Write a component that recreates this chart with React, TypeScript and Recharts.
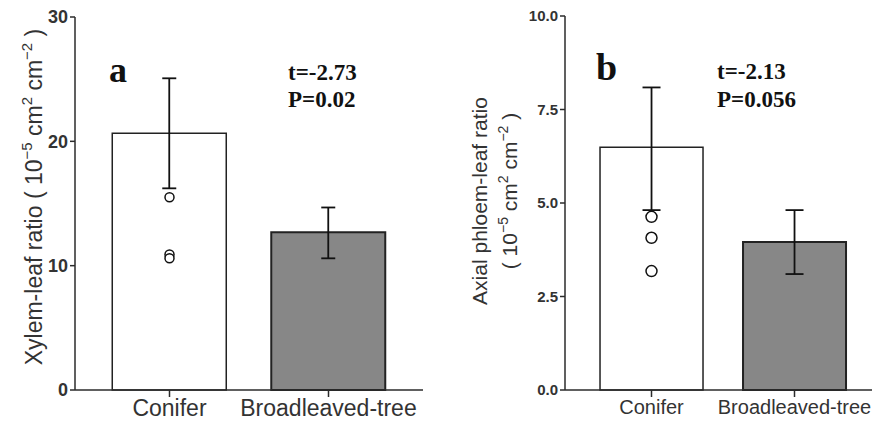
import React from 'react';
import { ComposedChart, Bar, Cell, ErrorBar, Scatter, XAxis, YAxis } from 'recharts';

const groups = ['Conifer', 'Broadleaved-tree'];

// panel a: xylem-leaf ratio
const xylemMean = [20.65, 12.68];
const xylemErr = [[4.43, 4.42], [2.09, 2.0]];
const xylemPoints = [15.5, 10.9, 10.6];
const xylemTicks = [0, 10, 20, 30];

// panel b: axial phloem-leaf ratio
const phloemMean = [6.49, 3.96];
const phloemErr = [[1.68, 1.6], [0.86, 0.85]];
const phloemPoints = [4.63, 4.07, 3.18];
const phloemTicks = [0, 2.5, 5, 7.5, 10];

const barFill = ['#ffffff', '#878787'];

const sans = '"Liberation Sans", Arial, sans-serif';
const serif = '"Liberation Serif", "Times New Roman", serif';
const ink = '#2b2b2b';

function buildData(mean: number[], err: number[][], pts: number[]) {
  return groups.map((name, i) => {
    const row: any = { name, mean: mean[i], err: err[i] };
    pts.forEach((p, j) => {
      row['p' + j] = i === 0 ? p : null;
    });
    return row;
  });
}

const dataA = buildData(xylemMean, xylemErr, xylemPoints);
const dataB = buildData(phloemMean, phloemErr, phloemPoints);

const ring = (r: number, key: string) => (props: any) => {
  const { cx, cy, payload } = props;
  if (typeof cy !== 'number' || isNaN(cy) || payload == null || payload[key] == null) return <g />;
  return <circle cx={cx} cy={cy} r={r} fill="#fff" stroke="#111" strokeWidth={1.5} />;
};

function Panel({ data, ticks, width, height, margin, yWidth, tickFont, xFont, errWidth, dotR, fmt }: any) {
  return (
    <ComposedChart width={width} height={height} data={data} margin={margin} barCategoryGap="14%">
      <XAxis
        dataKey="name"
        padding={{ left: 15, right: 15 }}
        height={30}
        tickSize={7}
        tickMargin={3}
        stroke={ink}
        strokeWidth={1.5}
        tick={{ fill: '#333', fontSize: xFont, fontFamily: sans }}
      />
      <YAxis
        domain={[ticks[0], ticks[ticks.length - 1]]}
        ticks={ticks}
        width={yWidth}
        tickSize={5}
        tickMargin={2}
        stroke={ink}
        strokeWidth={1.5}
        tickFormatter={fmt}
        tick={{ fill: '#333', fontSize: tickFont, fontWeight: 'bold', fontFamily: sans }}
      />
      <Bar dataKey="mean" isAnimationActive={false}>
        {data.map((d: any, i: number) => (
          <Cell key={d.name} fill={barFill[i]} stroke="#222" strokeWidth={i === 0 ? 1.5 : 2} />
        ))}
        <ErrorBar dataKey="err" width={errWidth} stroke="#111" strokeWidth={1.8} direction="y" />
      </Bar>
      {[0, 1, 2].map((j) => (
        <Scatter key={j} dataKey={'p' + j} isAnimationActive={false} shape={ring(dotR, 'p' + j)} />
      ))}
    </ComposedChart>
  );
}

export default function App() {
  return (
    <div style={{ position: 'fixed', left: 0, top: 0, width: 872, height: 423, overflow: 'hidden', background: '#fff' }}>
      <div style={{ position: 'absolute', left: 0, top: 0 }}>
        <Panel
          data={dataA}
          ticks={xylemTicks}
          width={440}
          height={423}
          margin={{ top: 17, right: 17, bottom: 3, left: 0 }}
          yWidth={75}
          tickFont={18}
          xFont={23}
          errWidth={7}
          dotR={4.5}
          fmt={(v: number) => String(v)}
        />
      </div>
      <div style={{ position: 'absolute', left: 440, top: 0 }}>
        <Panel
          data={dataB}
          ticks={phloemTicks}
          width={445}
          height={423}
          margin={{ top: 16, right: 4, bottom: 3, left: 0 }}
          yWidth={125}
          tickFont={15}
          xFont={20}
          errWidth={9}
          dotR={5.5}
          fmt={(v: number) => v.toFixed(1)}
        />
      </div>
      <svg width={872} height={423} style={{ position: 'absolute', left: 0, top: 0, pointerEvents: 'none' }}>
        <text
          x={42}
          y={197}
          transform="rotate(-90 42 197)"
          textAnchor="middle"
          fontFamily={sans}
          fontSize={23}
          fill="#333"
        >
          Xylem-leaf ratio ( 10
          <tspan dy={-10} fontSize={15}>−5</tspan>
          <tspan dy={10}> cm</tspan>
          <tspan dy={-10} fontSize={15}>2</tspan>
          <tspan dy={10}> cm</tspan>
          <tspan dy={-10} fontSize={15}>−2</tspan>
          <tspan dy={10}> )</tspan>
        </text>
        <text
          x={487}
          y={201}
          transform="rotate(-90 487 201)"
          textAnchor="middle"
          fontFamily={sans}
          fontSize={21}
          fill="#333"
        >
          Axial phloem-leaf ratio
        </text>
        <text
          x={517}
          y={191}
          transform="rotate(-90 517 191)"
          textAnchor="middle"
          fontFamily={sans}
          fontSize={21}
          fill="#333"
        >
          ( 10
          <tspan dy={-9} fontSize={14}>−5</tspan>
          <tspan dy={9}> cm</tspan>
          <tspan dy={-9} fontSize={14}>2</tspan>
          <tspan dy={9}> cm</tspan>
          <tspan dy={-9} fontSize={14}>−2</tspan>
          <tspan dy={9}> )</tspan>
        </text>
        <g fontFamily={serif} fontWeight="bold" fill="#111">
          <text x={109} y={82} fontSize={36}>a</text>
          <text x={288} y={80} fontSize={23}>t=-2.73</text>
          <text x={288} y={107} fontSize={23}>P=0.02</text>
          <text x={596} y={80} fontSize={38}>b</text>
          <text x={717} y={79} fontSize={23}>t=-2.13</text>
          <text x={717} y={107} fontSize={23}>P=0.056</text>
        </g>
      </svg>
    </div>
  );
}
